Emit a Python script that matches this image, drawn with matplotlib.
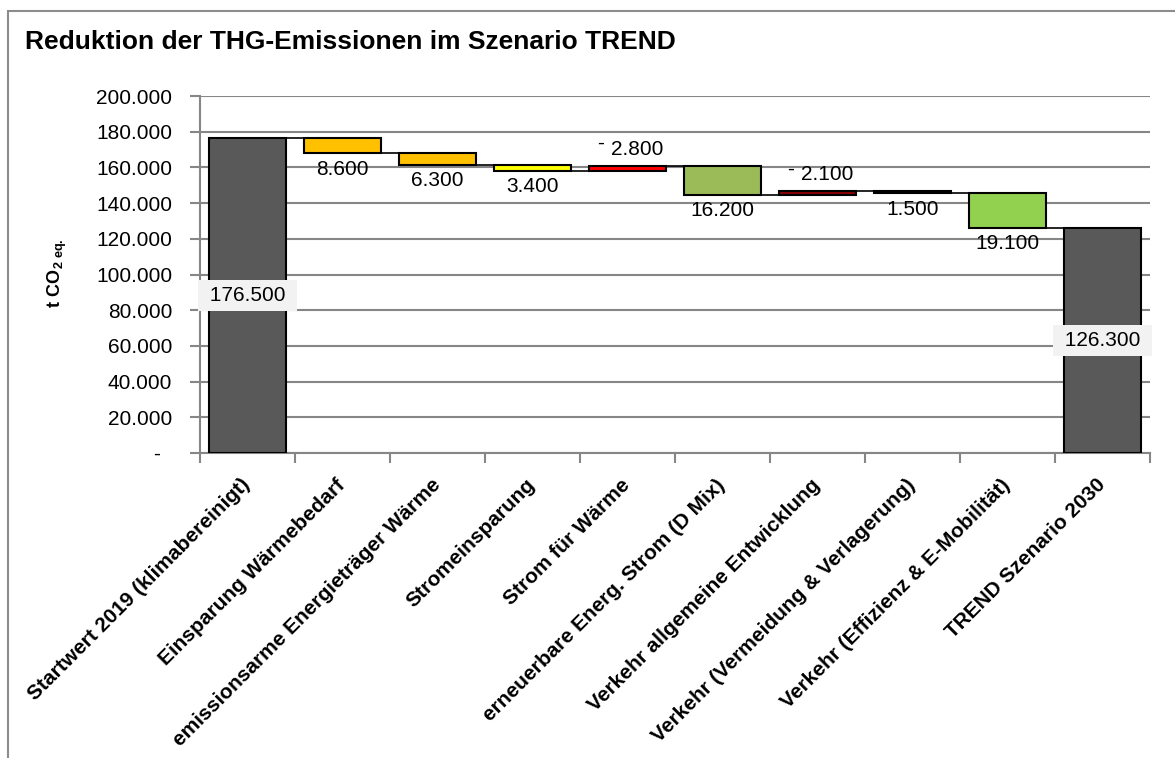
import numpy as np
import matplotlib
matplotlib.use("Agg")
import matplotlib.pyplot as plt
import matplotlib.transforms as mtransforms
from matplotlib.patches import Rectangle

plt.rcParams['font.family'] = ['Liberation Sans', 'DejaVu Sans']
plt.rcParams['mathtext.fontset'] = 'custom'
plt.rcParams['mathtext.rm'] = 'Liberation Sans'
plt.rcParams['mathtext.bf'] = 'Liberation Sans:bold'

# waterfall data (t CO2 eq.)
categories = [
    "Startwert 2019 (klimabereinigt)",
    "Einsparung Wärmebedarf",
    "emissionsarme Energieträger Wärme",
    "Stromeinsparung",
    "Strom für Wärme",
    "erneuerbare Energ. Strom (D Mix)",
    "Verkehr allgemeine Entwicklung",
    "Verkehr (Vermeidung & Verlagerung)",
    "Verkehr (Effizienz & E-Mobilität)",
    "TREND Szenario 2030",
]
start_value = 176500
changes = [-8600, -6300, -3400, 2800, -16200, 2100, -1500, -19100]
end_value = 126300
bar_colors = ['#595959', '#ffc000', '#ffc000', '#ffff00', '#ff0000',
              '#9bbb59', '#8b0000', '#262626', '#92d050', '#595959']
yticks = np.arange(0, 200001, 20000)

GRID = '#868686'


def fmt(v):
    return f"{v:,}".replace(",", ".")


# bottoms / heights of the floating bars
bottoms, heights, levels = [0], [start_value], [start_value]
level = start_value
for c in changes:
    new = level + c
    bottoms.append(min(level, new))
    heights.append(abs(c))
    levels.append(new)
    level = new
bottoms.append(0)
heights.append(end_value)
levels.append(end_value)

W, H = 1175, 758
fig = plt.figure(figsize=(W / 100, H / 100), dpi=100)
ax = fig.add_axes([200 / W, (H - 453) / H, 950 / W, 357 / H])

x = np.arange(len(categories))
bw = 0.82
ax.bar(x, heights, bottom=bottoms, width=bw, color=bar_colors,
       edgecolor='black', linewidth=1.5, zorder=3)

# connector lines between the bars
for i in range(len(x) - 1):
    ax.plot([x[i] + bw / 2, x[i + 1] - bw / 2], [levels[i], levels[i]],
            color='black', lw=1.2, zorder=2)

ax.set_xlim(-0.5, len(x) - 0.5)
ax.set_ylim(0, 200000)
ax.set_yticks(yticks)
ax.set_yticklabels([fmt(v) if v else "-  " for v in yticks], fontsize=15)
ax.tick_params(axis='y', length=7, width=1.5, color=GRID, pad=13)
ax.set_xticks(np.arange(-0.5, len(x), 1))
ax.set_xticklabels([])
ax.tick_params(axis='x', length=7, width=1.5, color=GRID)
ax.yaxis.grid(True, color=GRID, lw=1.5)
ax.set_axisbelow(True)
for s in ['top', 'right']:
    ax.spines[s].set_visible(False)
for s in ['left', 'bottom']:
    ax.spines[s].set_color(GRID)
    ax.spines[s].set_linewidth(1.5)

# value labels
for i, c in enumerate(changes, start=1):
    if c < 0:
        tr = mtransforms.offset_copy(ax.transData, fig=fig, x=0, y=-16, units='dots')
        ax.text(x[i], bottoms[i], fmt(-c), transform=tr, ha='center', va='center',
                fontsize=15, zorder=4)
    else:
        top = bottoms[i] + heights[i]
        tr = mtransforms.offset_copy(ax.transData, fig=fig, x=-17, y=16, units='dots')
        ax.text(x[i], top, fmt(c), transform=tr, ha='left', va='center',
                fontsize=15, zorder=4)
        tr = mtransforms.offset_copy(ax.transData, fig=fig, x=-27, y=22, units='dots')
        ax.text(x[i], top, "-", transform=tr, ha='center', va='center',
                fontsize=15, zorder=4)

for i in (0, len(x) - 1):
    ax.text(x[i], heights[i] / 2, " " + fmt(heights[i]) + " ", ha='center',
            va='center', fontsize=15, zorder=4,
            bbox=dict(boxstyle='square,pad=0.3', fc='#f2f2f2', ec='none'))

# rotated category labels
base = mtransforms.blended_transform_factory(ax.transData, ax.transAxes)
tr = mtransforms.offset_copy(base, fig=fig, x=0, y=-29, units='dots')
for i, lab in enumerate(categories):
    ax.text(x[i], 0, lab, transform=tr, rotation=45, rotation_mode='anchor',
            ha='right', va='center', fontsize=15, fontweight='bold')

fig.text(25 / W, 1 - 49 / H, "Reduktion der THG-Emissionen im Szenario TREND",
         fontsize=19, fontweight='bold', ha='left', va='baseline')
fig.text(57 / W, 1 - 273 / H, r'$\mathbf{t\ CO}_{\mathbf{2\ eq.}}$',
         rotation=90, ha='center', va='center', fontsize=13)

# outer chart frame
fig.add_artist(Rectangle((8 / W, -0.1), 1.2, (H - 11) / H + 0.1,
                         transform=fig.transFigure, fill=False,
                         edgecolor='#8c8c8c', lw=1.5))

fig.savefig("out.png", dpi=100)
